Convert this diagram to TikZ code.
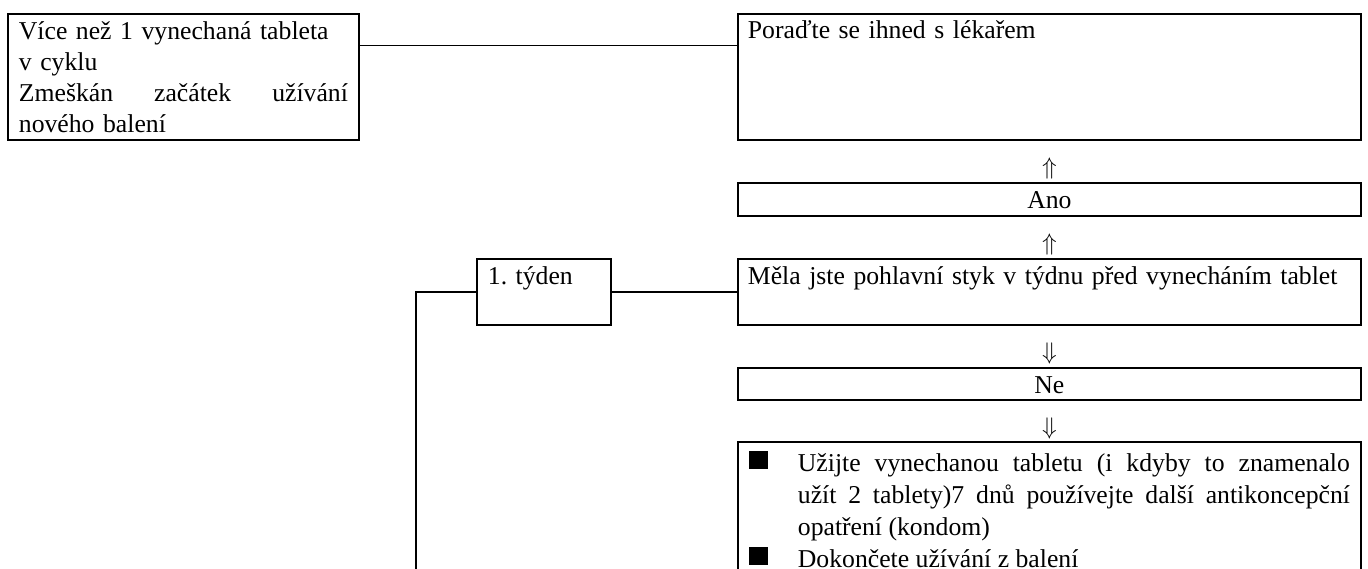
\documentclass[tikz,border=0pt]{standalone}
\usepackage{fontspec}
\setmainfont{Liberation Serif}
\usetikzlibrary{calc}
\begin{document}
\begin{tikzpicture}[x=0.5pt,y=-0.5pt,
  box/.style={draw, line width=0.9pt, anchor=base west, inner ysep=0pt,
    font=\fontsize{12.85pt}{15.5pt}\selectfont\frenchspacing},
  wide/.style={box, inner xsep=5pt, text width=301.5pt},
  arr/.style={font=\fontsize{13pt}{15pt}\selectfont, inner sep=0pt, yshift=-3.5pt},
  conn/.style={line width=0.9pt}]
\useasboundingbox (0,0) rectangle (1368,568);
\clip (0,0) rectangle (1368,568);

\node[box, inner xsep=5.5pt, text width=164.5pt, text height=12.5pt, text depth=50.5pt, align=left] (a) at (7,39)
  {Více než 1 vynechaná tableta\\v cyklu\\\makebox[164.5pt][l]{Zmeškán\hfill začátek\hfill užívání}\\nového balení};
\node[wide, text height=12pt, text depth=51pt, align=left] (b) at (737,38) {Poraďte se ihned s lékařem};
\node[wide, text height=12.5pt, text depth=4pt, align=center] (ano) at (737,208) {Ano};
\node[box, inner xsep=5.5pt, text width=56pt, text height=12.5pt, text depth=20.5pt, align=left] (tyden) at (476,284) {1. týden};
\node[wide, text height=12.5pt, text depth=20.5pt, align=left] (mela) at (737,284) {\mbox{Měla jste pohlavní styk v týdnu před vynecháním tablet}};
\node[wide, text height=12.5pt, text depth=3.5pt, align=center] (ne) at (737,393) {Ne};
\node[box, inner xsep=5.5pt, text width=300.5pt, text height=14.5pt, text depth=70pt, align=justify,
      font=\fontsize{12.85pt}{16pt}\selectfont\frenchspacing] (last) at (737,471)
  {\hyphenpenalty=10000 \tolerance=10000 \noindent
   \hangindent=24.5pt\hangafter=1 \makebox[24.5pt][l]{\rule[1pt]{9.5pt}{9pt}}Užijte vynechanou tabletu (i kdyby to znamenalo\linebreak užít 2 tablety)7 dnů používejte další antikoncepční\linebreak opatření (kondom)\par
   \noindent\hangindent=24.5pt\hangafter=1 \makebox[24.5pt][l]{\rule[1pt]{9.5pt}{9pt}}Dokončete užívání z balení\par};

\node[arr] (up1) at ($(b.south)!0.5!(ano.north)$) {$\Uparrow$};
\node[arr] (up2) at ($(ano.south)!0.5!(mela.north)$) {$\Uparrow$};
\node[arr] (dn1) at ($(mela.south)!0.5!(ne.north)$) {$\Downarrow$};
\node[arr] (dn2) at ($(ne.south)!0.5!(last.north)$) {$\Downarrow$};

\draw[conn] ($(a.north east)!0.254!(a.south east)$) -- ($(b.north west)!0.254!(b.south west)$);
\draw[conn] (tyden.east) -- (mela.west);
\coordinate (down) at (416,580);
\draw[conn] (tyden.west) -| (down);
\end{tikzpicture}
\end{document}
